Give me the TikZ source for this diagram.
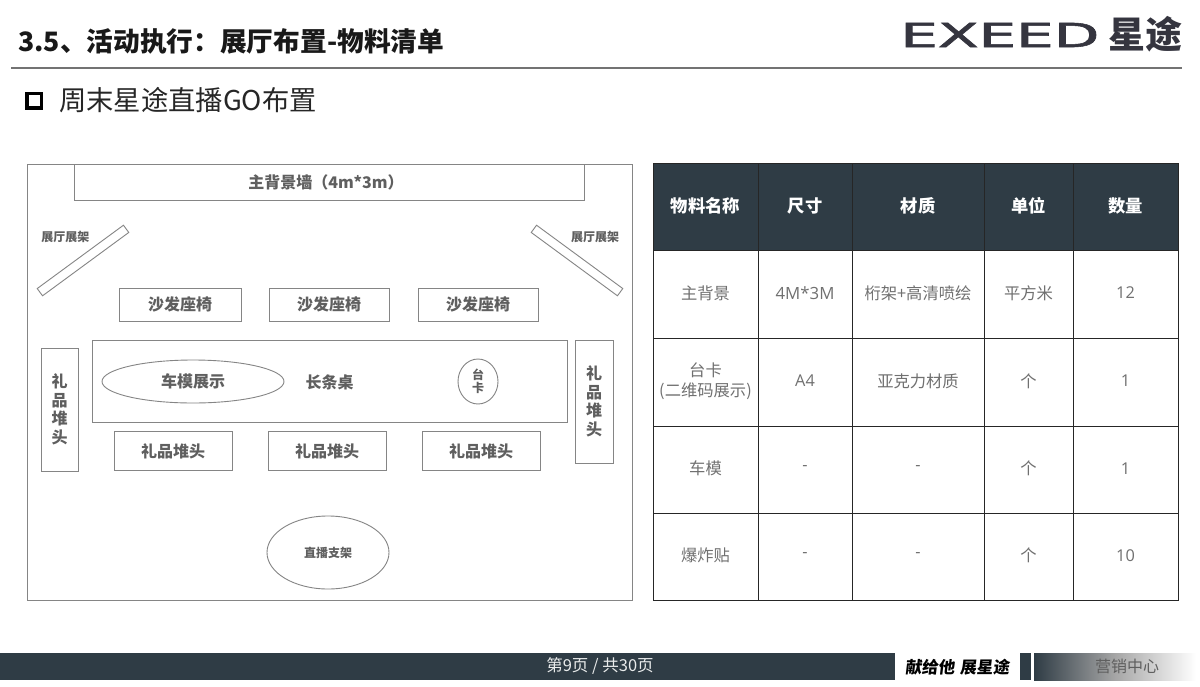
\documentclass[tikz,border=0pt]{standalone}
\usepackage{fontspec}
\setmainfont{Noto Sans CJK SC}
\newfontfamily\logof[FakeBold=1.6]{DejaVu Sans}
\newfontfamily\numf{Open Sans}
\definecolor{dark}{HTML}{2F3C45}
\definecolor{logoc}{HTML}{35353F}
\definecolor{ink}{HTML}{5F5F5F}
\definecolor{soft}{HTML}{707070}
\definecolor{line}{HTML}{858585}
\definecolor{grid}{HTML}{262626}
\newcommand{\dashcell}{\raisebox{-2pt}{\numf -}}
\tikzset{
 plan/.style={draw=line,line width=0.9pt,fill=white,inner sep=0pt,text=ink,font=\bfseries\fontsize{16}{18.5}\selectfont,align=center},
 oval/.style={plan,ellipse},
 small/.style={text=ink,inner sep=0pt,font=\bfseries\fontsize{12}{13}\selectfont,align=center},
 mid/.style={text=ink,inner sep=0pt,font=\bfseries\fontsize{16}{18}\selectfont},
 headcell/.style={text=white,inner sep=0pt,yshift=1pt,font=\bfseries\fontsize{17.3}{19}\selectfont},
 bodycell/.style={text=soft,inner sep=0pt,yshift=1pt,align=center,font=\fontsize{16.3}{20}\selectfont},
 gridline/.style={draw=grid,line width=0.9pt},
}
\usetikzlibrary{shapes.geometric}
\begin{document}
\begin{tikzpicture}[x=1pt,y=-1pt]
\useasboundingbox (0,0) rectangle (1200,686);
\fill[white] (0,0) rectangle (1200,686);
% header
\node[anchor=west,inner sep=0pt,text=black!90,font=\bfseries\fontsize{26.7}{30}\selectfont] (title) at (18,41) {3.5、活动执行：展厅布置-物料清单};
\coordinate (ruleL) at (11,68); \coordinate (ruleR) at (1182,68);
\draw[line width=1.1pt,color=black!55] (ruleL) -- (ruleR);
\node[anchor=west,inner sep=0pt,text=logoc,xscale=1.8,font=\logof\fontsize{33}{36}\selectfont] (logoA) at (900,35) {EXEED};
\node[anchor=west,inner sep=0pt,text=logoc,font=\bfseries\fontsize{37}{39}\selectfont] (logoB) at (1108,34) {星途};
\node[draw=black,line width=3.5pt,minimum size=14.5pt,inner sep=0pt] (bullet) at (34,100.5) {};
\node[anchor=west,inner sep=0pt,text=black!85,font=\fontsize{27.3}{30}\selectfont] (sub) at (59,100) {周末星途直播GO布置};
% plan
\draw[line,line width=1pt] (27,164.5) rectangle (632,600);
\node[plan,minimum width=510pt,minimum height=36.5pt] (wall) at (329,182.5) {};
\node[mid,text=ink] (wallt) at (326,182) {主背景墙（4m*3m）};
\node[plan,minimum width=107pt,minimum height=9pt,rotate=36.3] (rackL) at (83,260.5) {};
\node[plan,minimum width=107pt,minimum height=9pt,rotate=-36.3] (rackR) at (577,260.5) {};
\node[small] (rackLt) at (65.5,237) {展厅展架};
\node[small] (rackRt) at (595,237) {展厅展架};
\node[plan,minimum width=122pt,minimum height=33pt] (sofaA) at (180,304.5) {沙发座椅};
\node[plan,minimum width=120pt,minimum height=33pt] (sofaB) at (329,304.5) {沙发座椅};
\node[plan,minimum width=120pt,minimum height=33pt] (sofaC) at (478,304.5) {沙发座椅};
\node[plan,minimum width=475pt,minimum height=82pt] (desk) at (329.5,381) {};
\node[mid] (deskt) at (329.5,382) {长条桌};
\node[oval,minimum width=182pt,minimum height=43pt] (model) at (193,381.5) {车模展示};
\node[oval,minimum width=40pt,minimum height=45pt,font=\bfseries\fontsize{12}{13}\selectfont] (card) at (478,381.5) {台\\卡};
\node[plan,minimum width=37pt,minimum height=123pt] (giftL) at (59.5,409.5) {礼\\品\\堆\\头};
\node[plan,minimum width=38pt,minimum height=123pt] (giftR) at (594,401.5) {礼\\品\\堆\\头};
\node[plan,minimum width=118pt,minimum height=39pt] (giftA) at (173,451) {礼品堆头};
\node[plan,minimum width=118pt,minimum height=39pt] (giftB) at (327,451) {礼品堆头};
\node[plan,minimum width=118pt,minimum height=39pt] (giftC) at (481,451) {礼品堆头};
\node[oval,minimum width=122pt,minimum height=73pt,font=\bfseries\fontsize{12}{13}\selectfont] (live) at (328,552.5) {直播支架};
% table
\fill[dark] (653,163) rectangle (1178,250);
\foreach \xa/\xb/\nm/\txt in {653/758/a/物料名称,758/852/b/尺寸,852/984/c/材质,984/1073/d/单位,1073/1178/e/数量}{
  \draw[gridline] (\xa,163) rectangle node[headcell] (h\nm) {\txt} (\xb,250);
}
\foreach \ya/\yb/\nm/\ta/\tb/\tc/\td/\te in {
 250/338/1/主背景/{\numf\fontsize{16.8}{20}\selectfont 4M*3M}/桁架+高清喷绘/平方米/{\numf 12},
 338/426/2/{台卡\\(二维码展示)}/{\numf A4}/亚克力材质/个/{\numf 1},
 426/513/3/车模/\dashcell/\dashcell/个/{\numf 1},
 513/600/4/爆炸贴/\dashcell/\dashcell/个/{\numf 10}}{
  \draw[gridline] (653,\ya) rectangle node[bodycell] (a\nm) {\ta} (758,\yb);
  \draw[gridline] (758,\ya) rectangle node[bodycell] (b\nm) {\tb} (852,\yb);
  \draw[gridline] (852,\ya) rectangle node[bodycell] (c\nm) {\tc} (984,\yb);
  \draw[gridline] (984,\ya) rectangle node[bodycell] (d\nm) {\td} (1073,\yb);
  \draw[gridline] (1073,\ya) rectangle node[bodycell] (e\nm) {\te} (1178,\yb);
}
% footer
\fill[dark] (0,653) rectangle (895,680);
\node[inner sep=0pt,text=white!90!dark,font=\fontsize{16.5}{18}\selectfont] (page) at (600,666) {第9页 / 共30页};
\node[inner sep=0pt,text=black,font=\bfseries\fontsize{16.5}{18}\selectfont,xslant=0.12] (slogan) at (958,667) {献给他\,\,展星途};
\fill[dark] (1020,653) rectangle (1031,680);
\shade[left color=dark,right color=white,middle color=black!35] (1034,653) rectangle (1196,680);
\node[inner sep=0pt,text=ink,font=\fontsize{16}{18}\selectfont] (dept) at (1127,666) {营销中心};
\end{tikzpicture}
\end{document}
